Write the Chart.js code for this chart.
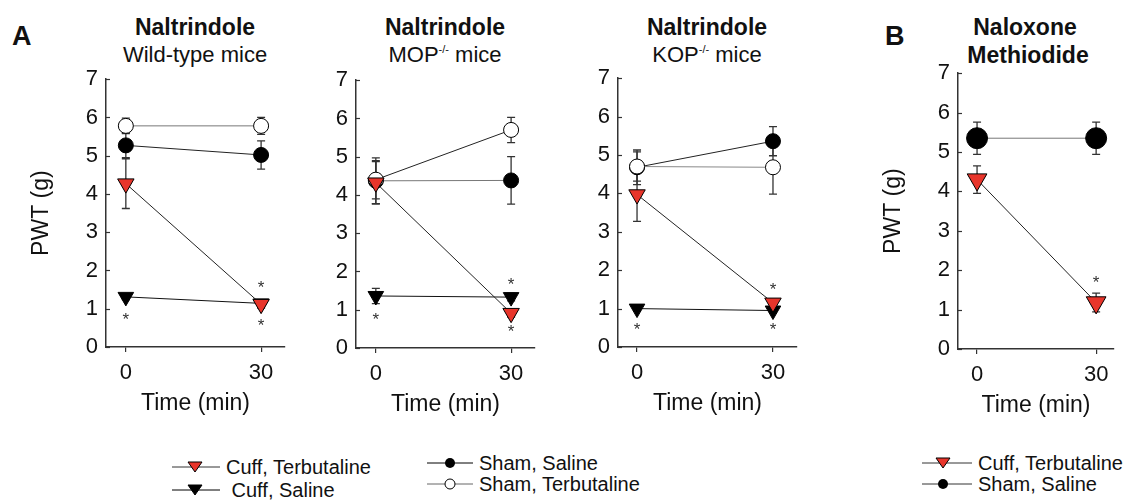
<!DOCTYPE html>
<html>
<head>
<meta charset="utf-8">
<script src="https://cdn.jsdelivr.net/npm/chart.js@4.4.1/dist/chart.umd.min.js"></script>
<style>
  body { margin: 0; background: #fff; font-family: "Liberation Sans", Arial, sans-serif; color: #111; }
  #wrap { position: relative; width: 1134px; height: 503px; overflow: hidden; }
  canvas { position: absolute; }
  .lbl { position: absolute; text-align: center; white-space: nowrap; line-height: 1; }
  .bold { font-weight: bold; }
  .panel { font-size: 27px; font-weight: bold; }
  .leg { position: absolute; display: flex; align-items: center; font-size: 20px; white-space: nowrap; line-height: 1; }
  .leg svg { margin-right: 6px; }
  sup { font-size: 11px; vertical-align: 9px; }
</style>
</head>
<body>
<div id="wrap">
  <div class="lbl panel" style="left:12px;top:23px;">A</div>
  <div class="lbl panel" style="left:885px;top:23px;">B</div>

  <div class="lbl bold" style="left:95px;width:200px;top:16px;font-size:23px;">Naltrindole</div>
  <div class="lbl" style="left:95px;width:200px;top:44px;font-size:22px;">Wild-type mice</div>
  <div class="lbl bold" style="left:345px;width:200px;top:16px;font-size:23px;">Naltrindole</div>
  <div class="lbl" style="left:345px;width:200px;top:44px;font-size:22px;">MOP<sup>-/-</sup> mice</div>
  <div class="lbl bold" style="left:607px;width:200px;top:16px;font-size:23px;">Naltrindole</div>
  <div class="lbl" style="left:607px;width:200px;top:44px;font-size:22px;">KOP<sup>-/-</sup> mice</div>
  <div class="lbl bold" style="left:925px;width:200px;top:16px;font-size:23px;">Naloxone</div>
  <div class="lbl bold" style="left:928px;width:200px;top:44px;font-size:23px;">Methiodide</div>

  <canvas id="wt" width="280" height="359" style="left:20px;top:58px;"></canvas>
  <canvas id="mop" width="280" height="359" style="left:270px;top:59px;"></canvas>
  <canvas id="kop" width="280" height="360" style="left:532px;top:57px;"></canvas>
  <canvas id="nlx" width="257" height="367" style="left:872px;top:52px;"></canvas>

  <div class="leg" style="left:172px;top:457px;"><svg width="48" height="20"><line x1="0" y1="10" x2="48" y2="10" stroke="#333"/><polygon points="16,5 30,5 23,15" fill="#e8352b" stroke="#000"/></svg>Cuff, Terbutaline</div>
  <div class="leg" style="left:172px;top:480px;"><svg width="48" height="20"><line x1="0" y1="10" x2="48" y2="10" stroke="#000"/><polygon points="16,5 30,5 23,15" fill="#000" stroke="#000"/></svg>&nbsp;Cuff, Saline</div>
  <div class="leg" style="left:427px;top:453px;"><svg width="46" height="20"><line x1="0" y1="10" x2="46" y2="10" stroke="#000"/><circle cx="23" cy="10" r="5" fill="#000"/></svg>Sham, Saline</div>
  <div class="leg" style="left:427px;top:474px;"><svg width="46" height="20"><line x1="0" y1="10" x2="46" y2="10" stroke="#666"/><circle cx="23" cy="10" r="5" fill="#fff" stroke="#000"/></svg>Sham, Terbutaline</div>
  <div class="leg" style="left:922px;top:453px;"><svg width="50" height="20"><line x1="0" y1="10" x2="50" y2="10" stroke="#333"/><polygon points="14,5 28,5 21,15" fill="#e8352b" stroke="#000"/></svg>Cuff, Terbutaline</div>
  <div class="leg" style="left:922px;top:474px;"><svg width="50" height="20"><line x1="0" y1="10" x2="50" y2="10" stroke="#333"/><circle cx="21" cy="10" r="5" fill="#000"/></svg>Sham, Saline</div>
</div>

<script>
// time points and y ticks
const timePoints = [0, 30];
const yTicks = [0, 1, 2, 3, 4, 5, 6, 7];

// A: naltrindole, wild-type
const wtCuffTerb = [4.27, 1.12];   const wtCuffTerbErr = [0.65, 0.1];
const wtCuffSal = [1.31, 1.14];    const wtCuffSalErr = [0.07, 0.07];
const wtShamSal = [5.27, 5.02];    const wtShamSalErr = [0.32, 0.37];
const wtShamTerb = [5.78, 5.78];   const wtShamTerbErr = [0.2, 0.22];
const wtStars = [[0, 0.78], [30, 1.62], [30, 0.62]];

// A: naltrindole, MOP-/-
const mopCuffTerb = [4.32, 0.91];  const mopCuffTerbErr = [0.55, 0.1];
const mopCuffSal = [1.36, 1.33];   const mopCuffSalErr = [0.2, 0.1];
const mopShamSal = [4.37, 4.38];   const mopShamSalErr = [0.6, 0.62];
const mopShamTerb = [4.4, 5.7];    const mopShamTerbErr = [0.5, 0.33];
const mopStars = [[0, 0.8], [30, 1.72], [30, 0.48]];

// A: naltrindole, KOP-/-
const kopCuffTerb = [3.97, 1.15];  const kopCuffTerbErr = [0.7, 0.1];
const kopCuffSal = [1.0, 0.95];    const kopCuffSalErr = [0.07, 0.07];
const kopShamSal = [4.68, 5.36];   const kopShamSalErr = [0.45, 0.38];
const kopShamTerb = [4.7, 4.68];   const kopShamTerbErr = [0.38, 0.7];
const kopStars = [[0, 0.5], [30, 1.56], [30, 0.5]];

// B: naloxone methiodide
const nlxCuffTerb = [4.3, 1.18];   const nlxCuffTerbErr = [0.35, 0.24];
const nlxShamSal = [5.35, 5.35];   const nlxShamSalErr = [0.41, 0.41];
const nlxStars = [[30, 1.75]];

Chart.defaults.font.family = '"Liberation Sans", Arial, sans-serif';
Chart.defaults.color = '#111';

const RED = '#e8352b';

function series(vals, err, kind, line, big) {
    const tri = big ? 1.2 : 1;
    const circ = big ? 1.4 : 1;
    const base = {
        data: timePoints.map((t, i) => ({ x: t, y: vals[i] })),
        err: err,
        borderColor: line,
        borderWidth: 1,
        pointBorderColor: '#000',
        pointBorderWidth: 1
    };
    if (kind === 'cuffTerb') return Object.assign(base, { pointStyle: 'triangle', pointRotation: 180, pointRadius: 9.5 * tri, pointBackgroundColor: RED, order: 0 });
    if (kind === 'cuffSal') return Object.assign(base, { pointStyle: 'triangle', pointRotation: 180, pointRadius: 9 * tri, pointBackgroundColor: '#000', order: 1 });
    if (kind === 'shamTerb') return Object.assign(base, { pointStyle: 'circle', pointRadius: 7.5 * circ, pointBackgroundColor: '#fff', order: 2 });
    return Object.assign(base, { pointStyle: 'circle', pointRadius: 7.5 * circ, pointBackgroundColor: '#000', order: 3 });
}

// error bars under the markers
const errorBars = {
    id: 'errorBars',
    beforeDatasetsDraw(chart) {
        const { ctx, scales: { x, y } } = chart;
        ctx.save();
        ctx.strokeStyle = '#333';
        ctx.lineWidth = 1.3;
        chart.data.datasets.forEach(ds => {
            ds.data.forEach((p, i) => {
                const px = x.getPixelForValue(p.x);
                const top = y.getPixelForValue(p.y + ds.err[i]);
                const bot = y.getPixelForValue(p.y - ds.err[i]);
                ctx.beginPath();
                ctx.moveTo(px, top); ctx.lineTo(px, bot);
                ctx.moveTo(px - 4, top); ctx.lineTo(px + 4, top);
                ctx.moveTo(px - 4, bot); ctx.lineTo(px + 4, bot);
                ctx.stroke();
            });
        });
        ctx.restore();
    }
};

// significance marks and inward y ticks
const extras = {
    id: 'extras',
    afterDraw(chart, args, opts) {
        const { ctx, scales: { x, y }, chartArea } = chart;
        ctx.save();
        ctx.strokeStyle = '#333';
        ctx.lineWidth = 1.2;
        yTicks.forEach(v => {
            const py = Math.round(y.getPixelForValue(v)) + 0.5;
            ctx.beginPath();
            ctx.moveTo(chartArea.left, py); ctx.lineTo(chartArea.left + 4, py);
            ctx.stroke();
        });
        ctx.fillStyle = '#333';
        ctx.font = '17px "Liberation Sans", Arial, sans-serif';
        ctx.textAlign = 'center';
        ctx.textBaseline = 'middle';
        (opts.stars || []).forEach(([t, v]) => {
            ctx.fillText('*', x.getPixelForValue(t), y.getPixelForValue(v) + 3);
        });
        ctx.restore();
    }
};

function makePanel(id, datasets, stars, xMin, xMax, showTitle) {
    new Chart(document.getElementById(id), {
        type: 'line',
        data: { datasets: datasets },
        options: {
            responsive: false,
            animation: false,
            layout: { padding: { top: 20, right: 15, left: 0, bottom: 0 } },
            plugins: { legend: { display: false }, tooltip: { enabled: false }, extras: { stars: stars } },
            scales: {
                x: {
                    type: 'linear', min: xMin, max: xMax,
                    afterBuildTicks: s => { s.ticks = timePoints.map(v => ({ value: v })); },
                    afterFit: s => { s.height = 70; },
                    grid: { drawOnChartArea: false, drawTicks: true, tickLength: 5, color: '#333', lineWidth: 1.2 },
                    border: { color: '#333', width: 1.5 },
                    ticks: { font: { size: 22 }, padding: 8, color: '#111', maxRotation: 0 },
                    title: { display: true, text: 'Time (min)', font: { size: 23 }, padding: { top: 0, bottom: 0 }, color: '#111' }
                },
                y: {
                    min: 0, max: 7,
                    afterBuildTicks: s => { s.ticks = yTicks.map(v => ({ value: v })); },
                    afterFit: s => { s.width = 86; },
                    grid: { drawOnChartArea: false, drawTicks: false },
                    border: { color: '#333', width: 1.5 },
                    ticks: { font: { size: 22 }, padding: 8, color: '#111' },
                    title: { display: showTitle, text: 'PWT (g)', font: { size: 23 }, padding: { top: 8, bottom: 0 }, color: '#111' }
                }
            }
        },
        plugins: [errorBars, extras]
    });
}

makePanel('wt', [
    series(wtCuffTerb, wtCuffTerbErr, 'cuffTerb', '#222'),
    series(wtCuffSal, wtCuffSalErr, 'cuffSal', '#111'),
    series(wtShamTerb, wtShamTerbErr, 'shamTerb', '#777'),
    series(wtShamSal, wtShamSalErr, 'shamSal', '#222')
], wtStars, -4.4, 35.3, true);

makePanel('mop', [
    series(mopCuffTerb, mopCuffTerbErr, 'cuffTerb', '#222'),
    series(mopCuffSal, mopCuffSalErr, 'cuffSal', '#111'),
    series(mopShamTerb, mopShamTerbErr, 'shamTerb', '#222'),
    series(mopShamSal, mopShamSalErr, 'shamSal', '#777')
], mopStars, -4.4, 35.3, false);

makePanel('kop', [
    series(kopCuffTerb, kopCuffTerbErr, 'cuffTerb', '#222'),
    series(kopCuffSal, kopCuffSalErr, 'cuffSal', '#111'),
    series(kopShamTerb, kopShamTerbErr, 'shamTerb', '#888'),
    series(kopShamSal, kopShamSalErr, 'shamSal', '#222')
], kopStars, -4.2, 35.3, false);

makePanel('nlx', [
    series(nlxCuffTerb, nlxCuffTerbErr, 'cuffTerb', '#222', true),
    series(nlxShamSal, nlxShamSalErr, 'shamSal', '#777', true)
], nlxStars, -4.8, 34.5, true);
</script>
</body>
</html>
